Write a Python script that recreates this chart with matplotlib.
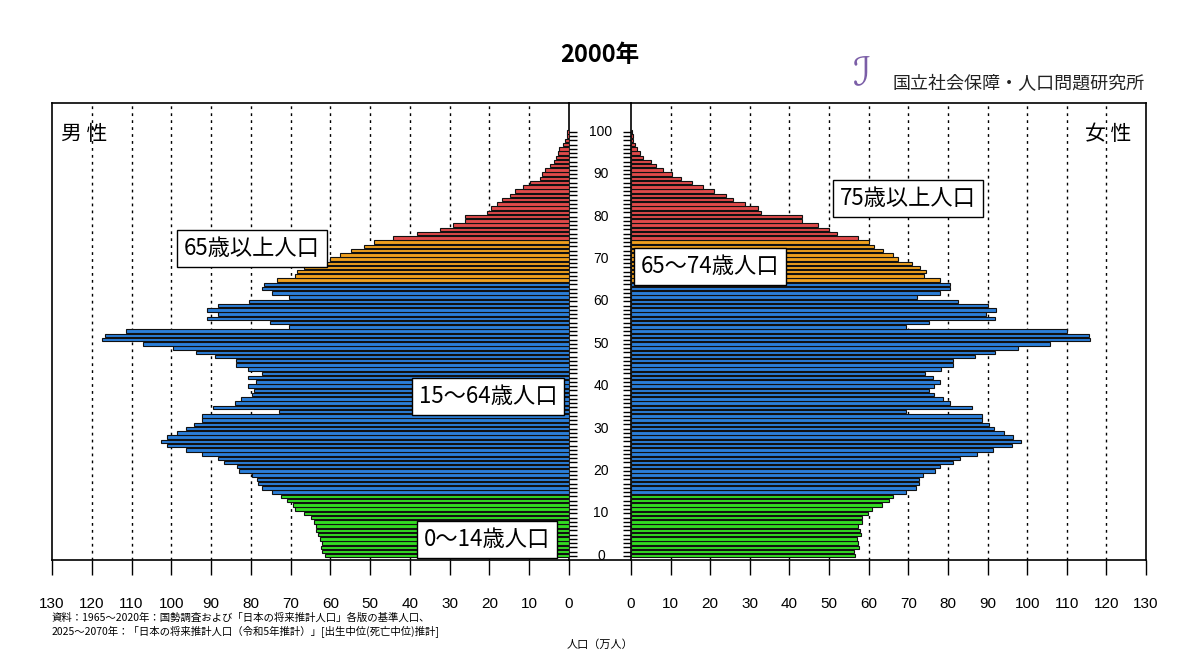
import numpy as np
import matplotlib.pyplot as plt
from matplotlib.lines import Line2D

plt.rcParams['font.family'] = ['Noto Sans CJK JP', 'DejaVu Sans']

ages = list(range(101))

# 万人, ages 0..100
male = [61.3, 62, 62.4, 62, 62.6, 63, 63.5, 63.7, 64, 65,
        66.6, 69, 69.5, 71, 72.3, 74.8, 77.3, 78.1, 78.5, 79.7,
        83, 83.4, 86.7, 88.3, 92.3, 96.3, 101, 102.6, 101, 98.5,
        96.3, 94.3, 92.3, 92.3, 72.9, 89.6, 84, 82.4, 79.7, 79.2,
        80.7, 78.8, 80.7, 77.2, 80.8, 83.8, 83.8, 89, 93.8, 99.7,
        107, 117.4, 116.6, 111.3, 70.5, 75.2, 90.9, 88.2, 90.9, 88.2,
        80.5, 70.5, 74.8, 77.2, 76.8, 73.3, 68.8, 68.4, 66.6, 63.7,
        60.2, 57.5, 54.8, 51.6, 49, 44.3, 38.1, 32.4, 29.1, 26.2,
        26.2, 20.5, 19.7, 18.2, 16.9, 14.9, 13.5, 11.5, 9.8, 7.3,
        6.8, 6, 4.8, 3.8, 3.3, 2.8, 2.6, 1.5, 1.0, 0.6, 0.5]
female = [56.5, 56.2, 57.5, 57.3, 57, 58, 57.8, 57.2, 58.3, 58.3,
          59.8, 60.9, 63.4, 65.2, 66.2, 69.4, 72, 72.6, 72.8, 73.6,
          76.7, 78, 81.2, 83.1, 87.3, 91.3, 96.2, 98.4, 96.4, 94.2,
          91.7, 90.3, 88.6, 88.5, 69.4, 86, 80.4, 78.7, 76.4, 75.3,
          76.4, 77.9, 76.2, 74.2, 78.2, 81.2, 81.4, 86.9, 92, 97.7,
          105.8, 115.9, 115.6, 110, 69.3, 75.3, 92, 89.5, 92.2, 90,
          82.6, 72.3, 77.9, 80.6, 80.6, 77.9, 74, 74.5, 73, 71,
          67.3, 66.1, 63.7, 61.4, 60.2, 57.2, 52.1, 50, 47.1, 43.2,
          43.2, 32.9, 32.1, 28.9, 25.8, 24, 20.9, 18.3, 15.4, 12.5,
          10.4, 8, 6.2, 5, 3.1, 2.3, 1.4, 0.9, 0.6, 0.4, 0.3]

def group_color(a):
    if a < 15:
        return '#33dd22'
    if a < 65:
        return '#2b7fd9'
    if a < 75:
        return '#f0a01e'
    return '#e04a4a'

colors = [group_color(a) for a in ages]

W, H = 1200, 667
fig = plt.figure(figsize=(12, 6.67), dpi=100)
top, bot = 103, 560
axh = (bot - top) / H
axL = fig.add_axes([52 / W, (H - bot) / H, 517 / W, axh])
axR = fig.add_axes([631 / W, (H - bot) / H, 515 / W, axh])

num_font = ['Liberation Sans', 'DejaVu Sans']
ylim = (-1.0, 106.8)
for ax, vals in ((axL, male), (axR, female)):
    ax.barh(ages, vals, height=0.82, color=colors, edgecolor='#111111', linewidth=0.8, zorder=3)
    ax.set_ylim(*ylim)
    ax.set_xlim(0, 130)
    ax.set_xticks(range(0, 131, 10))
    ax.set_xticklabels([str(v) for v in range(0, 131, 10)], fontsize=11, family=num_font)
    ax.tick_params(axis='x', direction='out', length=11, width=1, pad=16)
    for v in range(10, 130, 10):
        ax.axvline(v, color='black', ls=(0, (2, 3)), lw=1, zorder=1)
    ax.set_yticks(range(0, 101))
    ax.set_yticklabels([])
    for s in ax.spines.values():
        s.set_linewidth(1.2)
axL.invert_xaxis()
axL.yaxis.tick_right()
axL.tick_params(axis='y', direction='out', length=6, width=1)
axR.yaxis.tick_left()
axR.tick_params(axis='y', direction='out', length=6, width=1)

# top and bottom lines across the centre gap
for y in (top, bot):
    fig.add_artist(Line2D([569 / W, 631 / W], [1 - y / H, 1 - y / H], color='black', lw=1.2))

# age labels in the centre
for a in range(0, 101, 10):
    axR.text(-7.6, a, str(a), ha='center', va='center', fontsize=10,
             family=num_font, clip_on=False)

box = dict(facecolor='white', edgecolor='black', lw=1, pad=5)
lab = dict(fontsize=16, ha='center', va='center', bbox=box, zorder=5)
axL.text(79.7, 72.5, '65歳以上人口', **lab)
axL.text(20.4, 37.5, '15～64歳人口', **lab)
axL.text(20.6, 3.8, '0～14歳人口', **lab)
axR.text(70, 84.2, '75歳以上人口', **lab)
axR.text(20, 68.2, '65～74歳人口', **lab)

axL.text(122, 99.5, '男 性', fontsize=15, ha='center', va='center')
axR.text(120.5, 99.5, '女 性', fontsize=15, ha='center', va='center')

fig.text(0.5, 1 - 55 / H, '2000年', fontsize=17, fontweight='bold', ha='center', va='center')
fig.text(862 / W, 1 - 73 / H, 'ℐ', fontsize=28, color='#7b5ea7', ha='center', va='center',
         family=['DejaVu Sans'])
fig.text(1019 / W, 1 - 84 / H, '国立社会保障・人口問題研究所', fontsize=13, ha='center', va='center',
         color='#222222')
fig.text(52 / W, 1 - 618 / H, '資料：1965～2020年：国勢調査および「日本の将来推計人口」各版の基準人口、',
         fontsize=7.5, ha='left', va='center')
fig.text(52 / W, 1 - 632 / H, '2025～2070年：「日本の将来推計人口（令和5年推計）」[出生中位(死亡中位)推計]',
         fontsize=7.5, ha='left', va='center')
fig.text(0.5, 1 - 645 / H, '人口（万人）', fontsize=8, ha='center', va='center')

fig.savefig('out.png', dpi=100)
